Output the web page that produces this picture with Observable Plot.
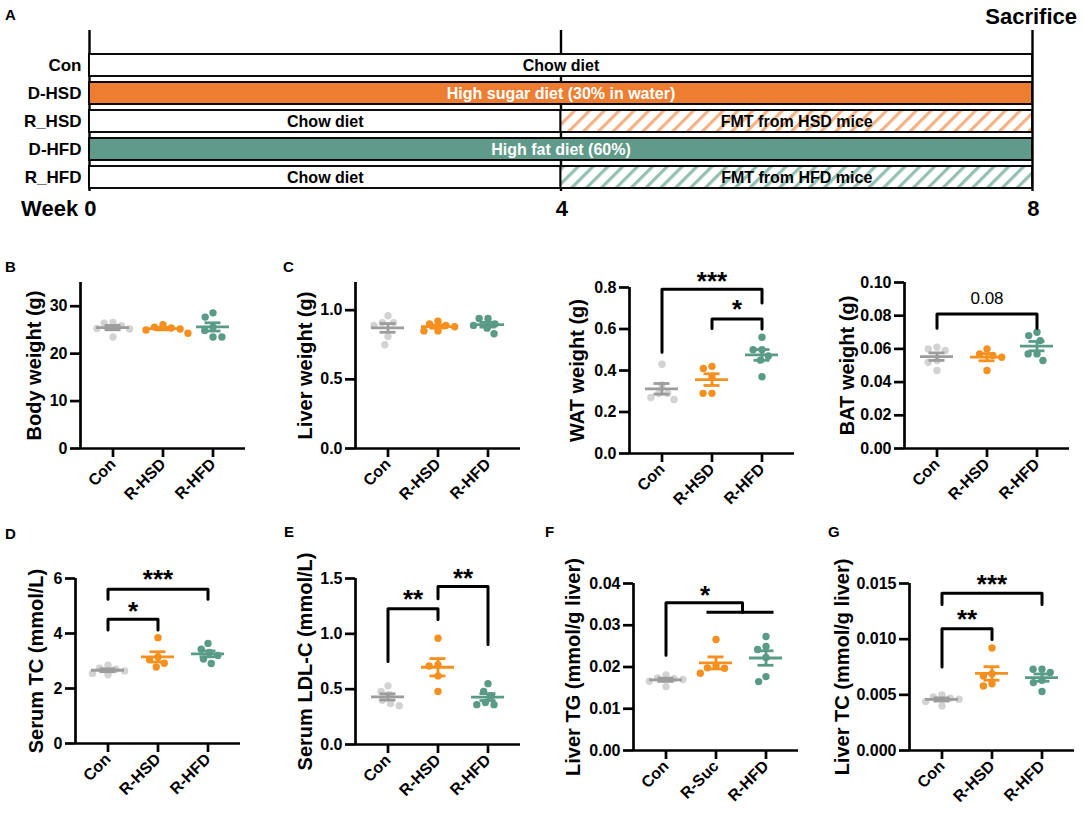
<!DOCTYPE html>
<html><head><meta charset="utf-8">
<script src="https://cdn.jsdelivr.net/npm/d3@7"></script>
<script src="https://cdn.jsdelivr.net/npm/@observablehq/plot@0.6"></script>
<style>
body{margin:0;background:#fff;}
#fig{position:relative;width:1084px;height:818px;overflow:hidden;background:#fff;font-family:"Liberation Sans",Arial,Helvetica,sans-serif;}
</style></head><body><div id="fig"></div>
<script>
// ---------- Panel A: timeline data ----------
const timelineRows = ["Con","D-HSD","R_HSD","D-HFD","R_HFD"];
const segRow   = ["Con","D-HSD","R_HSD","R_HSD","D-HFD","R_HFD","R_HFD"];
const segStart = [0,0,0,4,0,0,4];
const segEnd   = [8,8,4,8,8,4,8];
const segLabel = ["Chow diet","High sugar diet (30% in water)","Chow diet","FMT from HSD mice","High fat diet (60%)","Chow diet","FMT from HFD mice"];
const segKind  = ["chow","hsd","chow","fmtHsd","hfd","chow","fmtHfd"];
const weekTicks = [0,4,8];
const weekLabels = ["Week 0","4","8"];

// ---------- Panels B–G data ----------
const groupNames   = ["Con","R-HSD","R-HFD"];
const groupNamesTG = ["Con","R-Suc","R-HFD"];
const bodyWeight  = [[26.6,26.4,25.9,25.3,25.2,23.5],[26.1,25.6,25.4,25.2,25.0,24.3],[28.6,27.7,25.6,24.9,23.5,23.5]];
const liverWeight = [[0.91,0.91,0.96,0.89,0.81,0.75],[0.90,0.92,0.89,0.88,0.85,0.85],[0.90,0.94,0.94,0.89,0.87,0.83]];
const watWeight   = [[0.43,0.33,0.29,0.29,0.27,0.26],[0.42,0.41,0.37,0.29,0.29],[0.56,0.50,0.50,0.47,0.45,0.37]];
const batWeight   = [[0.060,0.059,0.061,0.052,0.053,0.047],[0.060,0.057,0.055,0.056,0.047],[0.068,0.065,0.070,0.057,0.057,0.053]];
const serumTC     = [[2.70,2.74,2.85,2.64,2.55,2.50],[3.85,3.15,3.05,2.92,2.78],[3.43,3.64,3.31,3.20,3.07,2.91]];
const serumLDL    = [[0.48,0.53,0.35,0.40,0.37,0.45],[0.96,0.71,0.72,0.62,0.48],[0.55,0.48,0.44,0.36,0.38,0.36]];
const liverTG     = [[0.0172,0.0174,0.0181,0.0170,0.0166,0.0153],[0.0266,0.0203,0.0198,0.0197,0.0185],[0.0273,0.0249,0.0242,0.0223,0.0177,0.0165]];
const liverTC     = [[0.0046,0.0047,0.0050,0.0048,0.0044,0.0040],[0.0092,0.0069,0.0067,0.0060,0.0058],[0.0073,0.0070,0.0073,0.0061,0.0063,0.0053]];

// significance brackets: [fromGroup, toGroup, leftEnd, top, rightEnd]
const watBrackets = [[0,2,0.488,0.792,0.725],[1,2,0.603,0.648,0.600]];
const watNotes    = [[1,0.843,"***"],[1.5,0.707,"*"]];
const batBrackets = [[0,2,0.0724,0.081,0.0724]];
const batNotes    = [[1,0.0904,"0.08"]];
const tcBrackets  = [[0,2,5.25,5.61,5.25],[0,1,4.13,4.52,4.13]];
const tcNotes     = [[1,6.06,"***"],[0.5,4.92,"*"]];
const ldlBrackets = [[0,1,0.75,1.227,1.13],[1,2,1.318,1.427,0.903]];
const ldlNotes    = [[0.5,1.333,"**"],[1.5,1.53,"**"]];
const tgBrackets  = [[0,1.53,0.0228,0.0354,0.0331]];
const tgLines     = [[0.82,2.16,0.0331]];
const tgNotes     = [[0.78,0.0378,"*"]];
const ltcBrackets = [[0,2,0.01311,0.01413,0.01311],[0,1,0.00749,0.01093,0.00997]];
const ltcNotes    = [[1,0.01515,"***"],[0.5,0.01198,"**"]];

// ---------- styling ----------
const FONT = "'Liberation Sans', Arial, Helvetica, sans-serif";
const fig = document.getElementById("fig");
const baseStyle = {fontFamily: FONT, background: "transparent", overflow: "visible", maxWidth: "none", color: "black"};
const pointColor = ["#d3d3d3","#f5901f","#5a9b87"];
const lineColor  = ["#9c9c9c","#f5901f","#5a9b87"];
const kindFill = {chow:"white", hsd:"#ed7d31", hfd:"#5f9a8a", fmtHsd:"url(#hatchHsd)", fmtHfd:"url(#hatchHfd)"};

function place(el, left, top){
  el.style.position = "absolute";
  el.style.left = left + "px";
  el.style.top = top + "px";
  fig.appendChild(el);
}

// ---------- Panel A ----------
const segs = segRow.map((r,i)=>({row:r, start:segStart[i], end:segEnd[i], label:segLabel[i], kind:segKind[i]}));
const timeline = Plot.plot({
  width: 1084, height: 225,
  marginLeft: 89, marginRight: 52, marginTop: 30, marginBottom: 34,
  x: {domain: [0,8], axis: null},
  y: {type: "band", domain: timelineRows, range: [46.25,195.75], padding: 0.2},
  color: {type: "identity"},
  style: baseStyle,
  marks: [
    Plot.ruleX(weekTicks, {stroke: "black", strokeWidth: 2.4}),
    Plot.barX(segs, {y: "row", x1: "start", x2: "end", fill: d => kindFill[d.kind], stroke: "black", strokeWidth: 1.9}),
    Plot.text(segs, {y: "row", x: d => (d.start+d.end)/2, text: "label",
      fill: d => (d.kind === "hsd" || d.kind === "hfd") ? "white" : "black",
      fontSize: 16, fontWeight: "bold"}),
    Plot.axisY({tickSize: 0, tickPadding: 8, fontSize: 17, fontWeight: "bold", label: null}),
    Plot.text(weekTicks, {x: d => d, frameAnchor: "bottom", text: (d,i) => weekLabels[i],
      textAnchor: "end", dx: 7, dy: 17, lineAnchor: "middle", fontSize: 22, fontWeight: "bold"})
  ]
});
{
  const defs = d3.select(timeline).insert("defs", ":first-child");
  [["hatchHsd","#f4b184"],["hatchHfd","#93c0b3"]].forEach(([id,c])=>{
    const p = defs.append("pattern").attr("id", id).attr("patternUnits","userSpaceOnUse")
      .attr("width", 10.5).attr("height", 10.5).attr("patternTransform","rotate(45)");
    p.append("rect").attr("width",10.5).attr("height",10.5).attr("fill","white");
    p.append("rect").attr("width",3.2).attr("height",10.5).attr("fill",c);
  });
}
place(timeline, 0, 0);

// ---------- swarm layout (pixel offsets) ----------
function swarm(values, pxPerUnit, r){
  const order = values.map((v,i)=>i).sort((a,b)=>values[b]-values[a]);
  const placed = [], out = new Array(values.length);
  const d = 2*r + 1.5;
  for (const i of order){
    const y = values[i]*pxPerUnit;
    const iv = [];
    for (const p of placed){
      const dy = Math.abs(p.y - y);
      if (dy < d){ const w = Math.sqrt(d*d - dy*dy); iv.push([p.x - w, p.x + w]); }
    }
    const cands = [0];
    iv.forEach(([a,b]) => cands.push(a,b));
    cands.sort((a,b)=>Math.abs(a)-Math.abs(b) || a-b);
    let x = 0;
    for (const c of cands){
      if (iv.every(([a,b]) => c <= a + 1e-6 || c >= b - 1e-6)){ x = c; break; }
    }
    placed.push({x,y}); out[i] = x;
  }
  return out;
}

// ---------- scatter panel ----------
function scatterPanel(cfg){
  const {values, names, max, ticks, fmt, title, titleOffset, brackets = [], lines = [], notes = [], X0, T, H = 166} = cfg;
  const W = 165, ML = 100, MT = 60, MR = 15, MB = 80;
  const xDomain = [-0.65, 2.65];
  const pxX = W/(xDomain[1]-xDomain[0]);
  const pxY = H/max;
  const pts = [];
  values.forEach((vals,g)=>{
    const offs = swarm(vals, pxY, 3.7);
    vals.forEach((v,i)=>pts.push({g, v, x: g + offs[i]/pxX}));
  });
  const stats = values.map((vals,g)=>{
    const m = d3.mean(vals), s = d3.deviation(vals)/Math.sqrt(vals.length);
    return {g, mean: m, lo: m - s, hi: m + s};
  });
  const bpts = brackets.flatMap((b,k)=>[
    {k, x: b[0], y: b[2]}, {k, x: b[0], y: b[3]}, {k, x: b[1], y: b[3]}, {k, x: b[1], y: b[4]}]);
  const starNotes = notes.filter(n => n[2].startsWith("*"));
  const numNotes  = notes.filter(n => !n[2].startsWith("*"));
  const svg = Plot.plot({
    width: ML + W + MR, height: MT + H + MB,
    marginLeft: ML, marginRight: MR, marginTop: MT, marginBottom: MB,
    x: {domain: xDomain},
    y: {domain: [0, max]},
    color: {type: "identity"},
    style: baseStyle,
    marks: [
      Plot.dot(pts, {x: "x", y: "v", r: 3.7, fill: d => pointColor[d.g], stroke: "none"}),
      Plot.ruleY(stats, {y: "mean", x1: d => d.g - 0.33, x2: d => d.g + 0.33, stroke: d => lineColor[d.g], strokeWidth: 2.8}),
      Plot.ruleX(stats, {x: "g", y1: "lo", y2: "hi", stroke: d => lineColor[d.g], strokeWidth: 2.8}),
      Plot.ruleY(stats, {y: "hi", x1: d => d.g - 0.16, x2: d => d.g + 0.16, stroke: d => lineColor[d.g], strokeWidth: 2.8}),
      Plot.ruleY(stats, {y: "lo", x1: d => d.g - 0.16, x2: d => d.g + 0.16, stroke: d => lineColor[d.g], strokeWidth: 2.8}),
      Plot.ruleY([0], {stroke: "black", strokeWidth: 2.7}),
      Plot.ruleX([xDomain[0]], {stroke: "black", strokeWidth: 2.7}),
      Plot.axisY({ticks, tickFormat: fmt, tickSize: 10, tickPadding: 3, strokeWidth: 2.7,
        fontSize: 16, fontWeight: "bold", label: null}),
      Plot.axisX({ticks: [0,1,2], tickFormat: i => names[i], tickRotate: -45, tickSize: 9, tickPadding: 4,
        strokeWidth: 2.7, fontSize: 16, fontWeight: "bold", label: null}),
      Plot.text([title], {x: xDomain[0] - titleOffset/pxX, text: d => d, rotate: -90,
        fontSize: 20, fontWeight: "bold", lineAnchor: "middle"}),
      Plot.line(bpts, {x: "x", y: "y", z: "k", stroke: "black", strokeWidth: 3, curve: "linear"}),
      Plot.ruleY(lines, {y: d => d[2], x1: d => d[0], x2: d => d[1], stroke: "black", strokeWidth: 3}),
      Plot.text(starNotes, {x: d => d[0], y: d => d[1], text: d => d[2], fontSize: 26, fontWeight: "bold", lineAnchor: "middle", dy: 3}),
      Plot.text(numNotes, {x: d => d[0], y: d => d[1], text: d => d[2], fontSize: 17, lineAnchor: "middle"})
    ]
  });
  place(svg, X0 - ML, T - MT);
}

const f0 = d3.format("d"), f1 = d3.format(".1f"), f2 = d3.format(".2f"), f3 = d3.format(".3f");

scatterPanel({values: bodyWeight, names: groupNames, max: 35, ticks: [0,10,20,30], fmt: f0,
  title: "Body weight (g)", titleOffset: 46, X0: 80, T: 282});
scatterPanel({values: liverWeight, names: groupNames, max: 1.2, ticks: [0,0.5,1.0], fmt: f1,
  title: "Liver weight (g)", titleOffset: 50, X0: 355, T: 282});
scatterPanel({values: watWeight, names: groupNames, max: 0.8, ticks: [0,0.2,0.4,0.6,0.8], fmt: f1,
  title: "WAT weight (g)", titleOffset: 52, X0: 629, T: 287, brackets: watBrackets, notes: watNotes});
scatterPanel({values: batWeight, names: groupNames, max: 0.1, ticks: [0,0.02,0.04,0.06,0.08,0.10], fmt: f2,
  title: "BAT weight (g)", titleOffset: 57, X0: 904, T: 282, brackets: batBrackets, notes: batNotes});
scatterPanel({values: serumTC, names: groupNames, max: 6, ticks: [0,2,4,6], fmt: f0,
  title: "Serum TC (mmol/L)", titleOffset: 39, X0: 75, T: 578, H: 165, brackets: tcBrackets, notes: tcNotes});
scatterPanel({values: serumLDL, names: groupNames, max: 1.5, ticks: [0,0.5,1.0,1.5], fmt: f1,
  title: "Serum LDL-C (mmol/L)", titleOffset: 50, X0: 355, T: 578, brackets: ldlBrackets, notes: ldlNotes});
scatterPanel({values: liverTG, names: groupNamesTG, max: 0.04, ticks: [0,0.01,0.02,0.03,0.04], fmt: f2,
  title: "Liver TG (mmol/g liver)", titleOffset: 60, X0: 633, T: 583, H: 167, brackets: tgBrackets, lines: tgLines, notes: tgNotes});
scatterPanel({values: liverTC, names: groupNames, max: 0.015, ticks: [0,0.005,0.010,0.015], fmt: f3,
  title: "Liver TC (mmol/g liver)", titleOffset: 67, X0: 909, T: 583, H: 167, brackets: ltcBrackets, notes: ltcNotes});

// ---------- panel letters and "Sacrifice" ----------
const panelLetters = ["A","B","C","D","E","F","G"];
const letterX = [5,5,283,5,284,545,828];
const letterY = [15,267,267,534,532,532,532];
const overlay = d3.create("svg").attr("width",1084).attr("height",818)
  .style("font-family", FONT).style("pointer-events","none");
overlay.selectAll("text.letter").data(panelLetters).join("text")
  .attr("x",(d,i)=>letterX[i]).attr("y",(d,i)=>letterY[i]+5.4)
  .attr("font-size",15).attr("font-weight","bold").text(d=>d);
overlay.append("text").attr("x",1077).attr("y",24).attr("text-anchor","end")
  .attr("font-size",22).attr("font-weight","bold").text("Sacrifice");
place(overlay.node(), 0, 0);
</script></body></html>
